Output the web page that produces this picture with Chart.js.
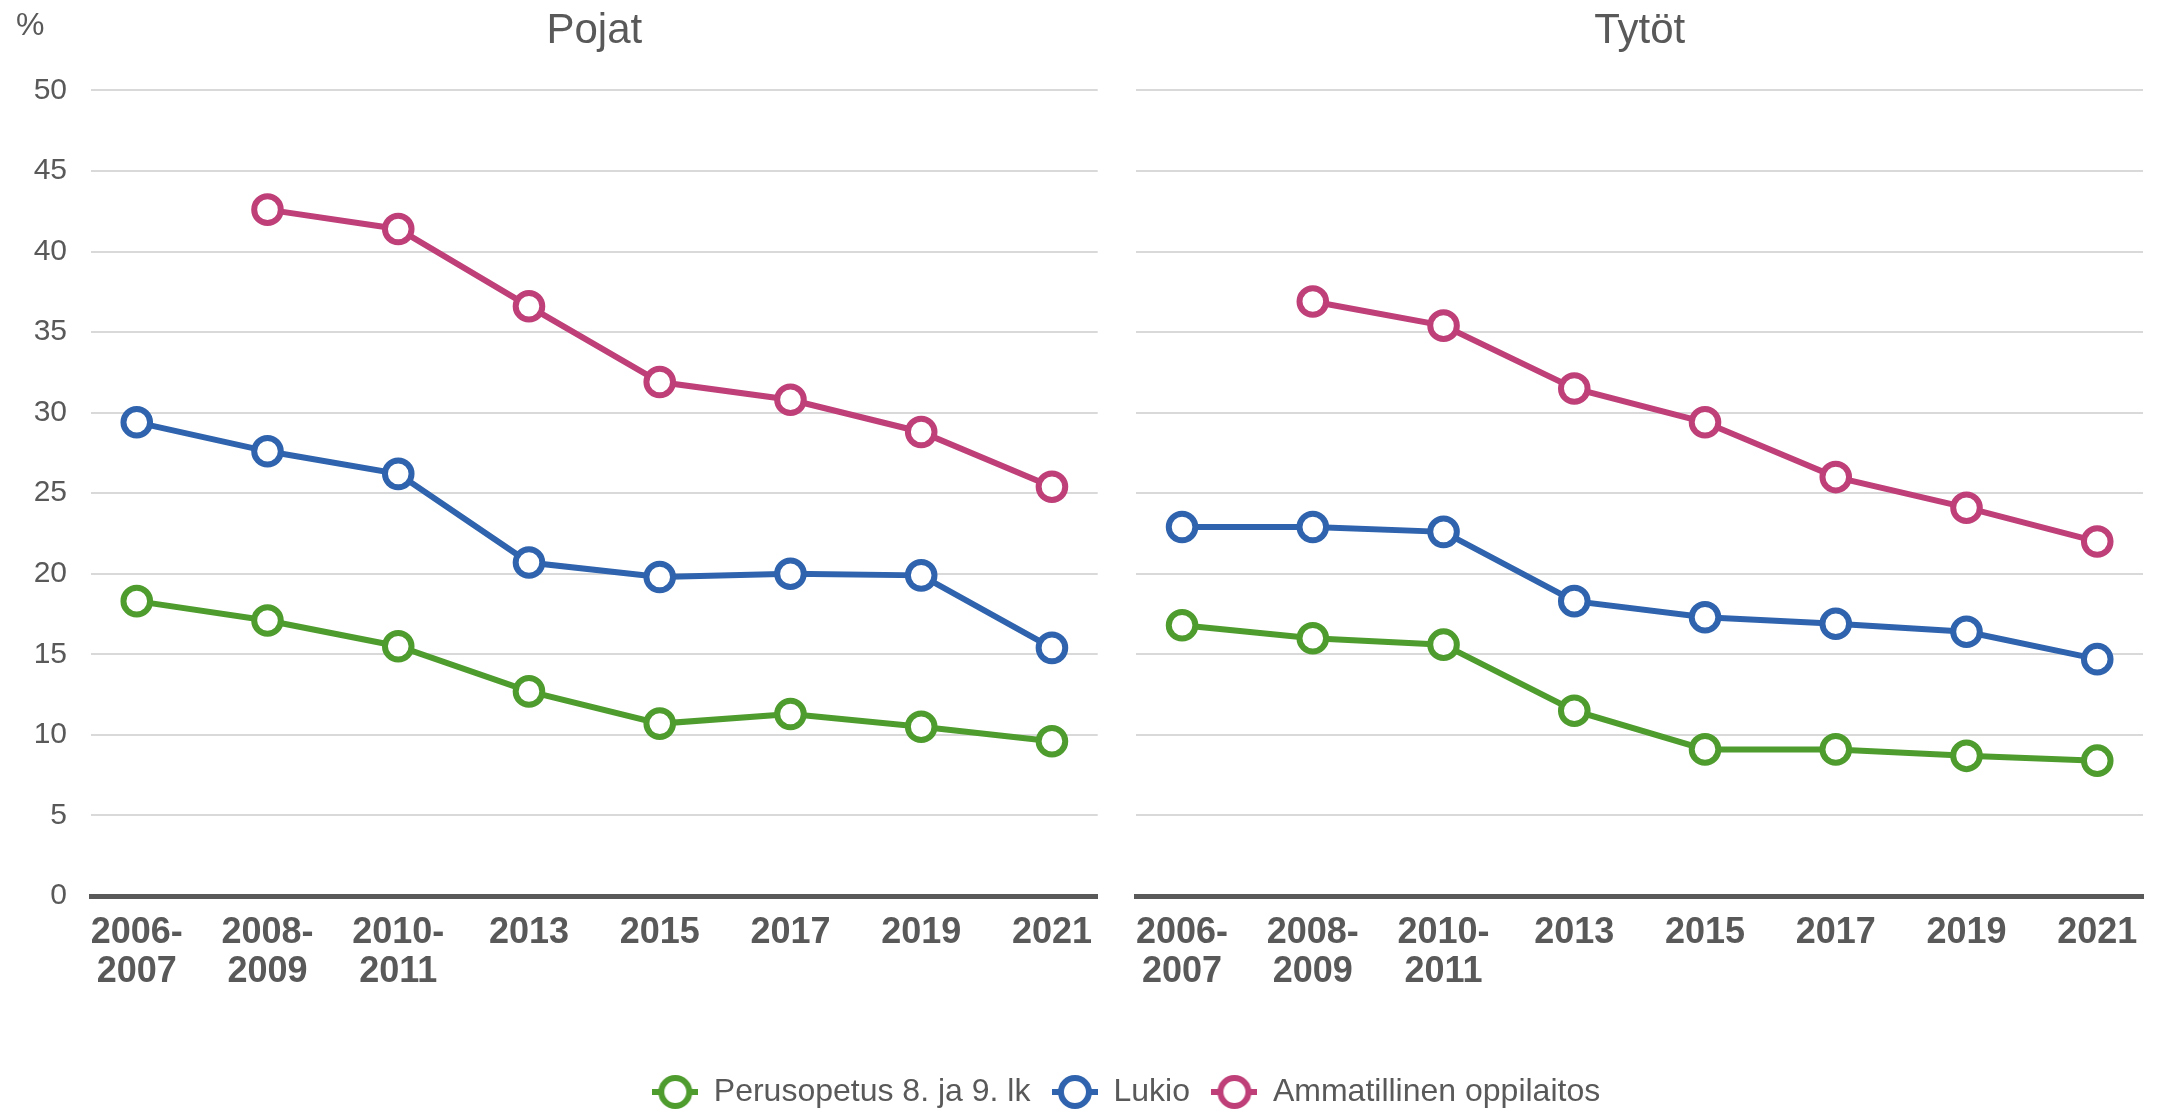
<!DOCTYPE html>
<html>
<head>
<meta charset="utf-8">
<script src="https://cdn.jsdelivr.net/npm/chart.js@4/dist/chart.umd.min.js"></script>
<style>
  html, body { margin: 0; padding: 0; background: #fff; overflow: hidden; }
  #wrap { position: relative; width: 2163px; height: 1115px; background: #fff; overflow: hidden; }
  canvas { position: absolute; }
</style>
</head>
<body>
<div id="wrap">
  <canvas id="pojat" width="1117" height="1040" style="left:0;top:0"></canvas>
  <canvas id="tytot" width="1046" height="1040" style="left:1117px;top:0"></canvas>
  <canvas id="legend" width="2163" height="200" style="left:0;top:990px"></canvas>
</div>
<script>
// --- data ---
const categories = [["2006-", "2007"], ["2008-", "2009"], ["2010-", "2011"], "2013", "2015", "2017", "2019", "2021"];
const seriesNames = ["Perusopetus 8. ja 9. lk", "Lukio", "Ammatillinen oppilaitos"];
const seriesColors = ["#4f9c2e", "#2f63ad", "#bf3f78"];
const yTicks = [0, 5, 10, 15, 20, 25, 30, 35, 40, 45, 50];

const pojatPerusopetus = [18.3, 17.1, 15.5, 12.7, 10.7, 11.3, 10.5, 9.6];
const pojatLukio = [29.4, 27.6, 26.2, 20.7, 19.8, 20.0, 19.9, 15.4];
const pojatAmmatillinen = [null, 42.6, 41.4, 36.6, 31.9, 30.8, 28.8, 25.4];

const tytotPerusopetus = [16.8, 16.0, 15.6, 11.5, 9.1, 9.1, 8.7, 8.4];
const tytotLukio = [22.9, 22.9, 22.6, 18.3, 17.3, 16.9, 16.4, 14.7];
const tytotAmmatillinen = [null, 36.9, 35.4, 31.5, 29.4, 26.0, 24.1, 22.0];

const TEXT = "#595959";
Chart.defaults.font.family = "'Liberation Sans', Arial, sans-serif";
Chart.defaults.color = TEXT;

function points(values) {
  return values.map((v, i) => ({ x: i, y: v }));
}

function makeDatasets(series) {
  return series.map((values, k) => ({
    label: seriesNames[k],
    data: points(values),
    borderColor: seriesColors[k],
    backgroundColor: "#fff",
    borderWidth: 6,
    pointRadius: 13.3,
    pointBorderWidth: 6,
    pointBackgroundColor: "#fff",
    pointBorderColor: seriesColors[k],
    tension: 0
  }));
}

// "%" above the y axis
const percentLabel = {
  id: "percentLabel",
  afterDraw(chart) {
    const ctx = chart.ctx;
    ctx.save();
    ctx.font = "32px 'Liberation Sans', Arial, sans-serif";
    ctx.fillStyle = TEXT;
    ctx.textBaseline = "middle";
    ctx.textAlign = "left";
    ctx.fillText("%", 16, 26);
    ctx.restore();
  }
};

function panelOptions(title, showY, yWidth, padRight) {
  return {
    responsive: false,
    animation: false,
    devicePixelRatio: 1,
    layout: { padding: { left: 0, right: padRight, top: 0, bottom: 0 } },
    plugins: {
      legend: { display: false },
      tooltip: { enabled: false },
      title: {
        display: true,
        text: title,
        fullSize: false,
        color: TEXT,
        font: { size: 42, weight: "normal", lineHeight: 1.2 },
        padding: { top: 6, bottom: 34 }
      }
    },
    scales: {
      x: {
        type: "linear",
        min: -0.35,
        max: categories.length - 1 + 0.35,
        afterBuildTicks: s => { s.ticks = categories.map((_, i) => ({ value: i })); },
        afterFit: s => { s.height = 144; },
        grid: { display: false, drawTicks: false },
        border: { display: true, color: TEXT, width: 5 },
        ticks: {
          autoSkip: false,
          maxRotation: 0,
          padding: 17,
          color: TEXT,
          font: { size: 36, weight: "bold", lineHeight: 1.1 },
          callback: v => categories[v]
        }
      },
      y: {
        min: 0,
        max: 50,
        afterBuildTicks: s => { s.ticks = yTicks.map(v => ({ value: v })); },
        afterFit: s => { s.width = yWidth; },
        grid: { color: "#d9d9d9", lineWidth: 2, drawTicks: false },
        border: { display: false },
        ticks: {
          display: showY,
          padding: 24,
          color: TEXT,
          font: { size: 30 }
        }
      }
    }
  };
}

new Chart(document.getElementById("pojat"), {
  type: "line",
  data: { datasets: makeDatasets([pojatPerusopetus, pojatLukio, pojatAmmatillinen]) },
  options: panelOptions("Pojat", true, 91, 13),
  plugins: [percentLabel]
});

new Chart(document.getElementById("tytot"), {
  type: "line",
  data: { datasets: makeDatasets([tytotPerusopetus, tytotLukio, tytotAmmatillinen]) },
  options: panelOptions("Tytöt", false, 13, 20)
});

// legend marker: short line with an open circle
function marker(color) {
  const c = document.createElement("canvas");
  c.width = 46; c.height = 36;
  const g = c.getContext("2d");
  g.strokeStyle = color;
  g.lineWidth = 6;
  g.beginPath(); g.moveTo(0, 18); g.lineTo(46, 18); g.stroke();
  g.fillStyle = "#fff";
  g.beginPath(); g.arc(23, 18, 14, 0, Math.PI * 2); g.fill(); g.stroke();
  return c;
}

// legend canvas runs past the page bottom so the legend box gets enough height
new Chart(document.getElementById("legend"), {
  type: "line",
  data: {
    datasets: seriesNames.map((name, k) => ({
      label: name,
      data: [],
      borderColor: seriesColors[k],
      backgroundColor: "#fff",
      pointStyle: marker(seriesColors[k])
    }))
  },
  options: {
    responsive: false,
    animation: false,
    devicePixelRatio: 1,
    layout: { padding: { left: 90, top: 64 } },
    scales: { x: { display: false }, y: { display: false } },
    plugins: {
      tooltip: { enabled: false },
      legend: {
        position: "top",
        labels: {
          usePointStyle: true,
          pointStyleWidth: 45,
          boxHeight: 32,
          padding: 22,
          color: TEXT,
          font: { size: 32 }
        }
      }
    }
  }
});
</script>
</body>
</html>
